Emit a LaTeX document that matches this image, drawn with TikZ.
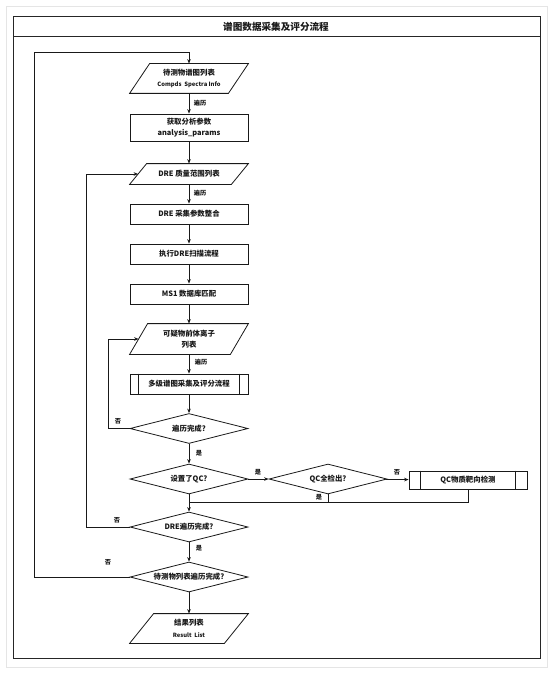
\documentclass[tikz,border=0pt]{standalone}
\usepackage{fontspec}
\setmainfont{Noto Sans CJK SC}
\usetikzlibrary{shapes.geometric,calc,arrows.meta}
\newcommand\paral[2]{\draw ($(#1.north west)+(#2,0)$) -- (#1.north east) -- ($(#1.south east)-(#2,0)$) -- (#1.south west) -- cycle;}
\newcommand\subbars[2]{\draw ($(#1.north west)+(#2,0)$) -- ($(#1.south west)+(#2,0)$); \draw ($(#1.north east)-(#2,0)$) -- ($(#1.south east)-(#2,0)$);}
\begin{document}
\begin{tikzpicture}[x=1pt,y=-1pt,
 line width=0.8pt, draw=black!90,
 base/.style={inner sep=0pt, align=center, font=\fontsize{7.4}{11.5}\selectfont\bfseries, text=black!90},
 box/.style={base, draw, minimum width=118pt, minimum height=#1},
 box/.default=20pt,
 para/.style={base, minimum width=118pt, minimum height=#1},
 dia/.style={base, draw, diamond, aspect=4, minimum width=118pt, minimum height=30pt},
 lbl/.style={font=\fontsize{6.2}{6}\selectfont\bfseries, inner sep=0pt, text=black!90},
 arr/.style={-{Stealth[length=4.5pt,width=3.6pt]}},
]
\useasboundingbox (0,0) rectangle (554,674);
\fill[white] (0,0) rectangle (554,674);
\draw[draw=black!10, line width=0.8pt] (6,6) rectangle (547,667);
\draw[draw=black!85, line width=1pt] (13,17) rectangle (540,658);
\draw[draw=black!85, line width=1pt] (13,37) -- (540,37);
\node[base, font=\fontsize{9.6}{10}\selectfont\bfseries] (title) at (276,27) {谱图数据采集及评分流程};

% nodes
\node[para=29pt] (p1) at (189,78.5) {待测物谱图列表\\{\fontsize{5.9}{6}\selectfont Compds\ \ Spectra Info}};
\node[box=27pt] (r2) at (189,127.5) {获取分析参数\\{\fontsize{7.4}{6}\selectfont analysis\_params}};
\node[para=20pt] (p3) at (189,174) {DRE 质量范围列表};
\node[box] (r4) at (189,214) {DRE 采集参数整合};
\node[box] (r5) at (189,254) {执行DRE扫描流程};
\node[box] (r6) at (189,294) {MS1 数据库匹配};
\node[para=30pt] (p7) at (189,339) {可疑物前体离子\\列表};
\node[box] (r8) at (189,384) {多级谱图采集及评分流程};
\node[dia] (d9) at (189,428.5) {遍历完成?};
\node[dia] (d10) at (189,479) {设置了QC?};
\node[dia] (d11) at (328,479) {QC全检出?};
\node[box=18pt] (r12) at (468,480) {QC物质靶向检测};
\node[dia] (d13) at (189,527) {DRE遍历完成?};
\node[dia] (d14) at (189,577) {待测物列表遍历完成?};
\node[para=29pt] (p15) at (189,628.5) {结果列表\\{\fontsize{5.8}{6}\selectfont Result\ \ List}};

\paral{p1}{20}
\paral{p3}{17}
\paral{p7}{18}
\paral{p15}{24}
\subbars{r8}{9}
\subbars{r12}{12}

% helper coordinates
\coordinate (p3l) at ($(p3.west)+(8.5,0)$);
\coordinate (p7l) at ($(p7.west)+(9,0)$);
\coordinate (m) at (189,502);
\coordinate (ltop) at (34,52);
\coordinate (l2) at (86,527);
\coordinate (l3) at (108,428.5);

% connectors
\draw[arr] (p1) -- (r2);
\draw[arr] (r2) -- (p3);
\draw[arr] (p3) -- (r4);
\draw[arr] (r4) -- (r5);
\draw[arr] (r5) -- (r6);
\draw[arr] (r6) -- (p7);
\draw[arr] (p7) -- (r8);
\draw[arr] (r8) -- (d9);
\draw[arr] (d9) -- (d10);
\draw[arr] (d10) -- (d11);
\draw[arr] (d11) -- (r12);
\draw[arr] (d10.south) -- (d13.north);
\draw (d11.south) -- (d11.south |- m);
\draw (r12.south) |- (m);
\draw[arr] (d13) -- (d14);
\draw[arr] (d14) -- (p15);
\draw[arr] (d14.west) -| (ltop) -- (ltop -| p1.north) -- (p1.north);
\draw[arr] (d13.west) -- (l2) |- (p3l);
\draw[arr] (d9.west) -- (l3) |- (p7l);

% labels
\node[lbl] (t1) at (200,103) {遍历};
\node[lbl] (t2) at (200,193) {遍历};
\node[lbl] (t3) at (201,362) {遍历};
\node[lbl] (t4) at (118,421) {否};
\node[lbl] (t5) at (199,453) {是};
\node[lbl] (t6) at (258,472) {是};
\node[lbl] (t7) at (397,472) {否};
\node[lbl] (t8) at (319,497) {是};
\node[lbl] (t9) at (117,520) {否};
\node[lbl] (t10) at (199,548) {是};
\node[lbl] (t11) at (108,562) {否};
\end{tikzpicture}
\end{document}
